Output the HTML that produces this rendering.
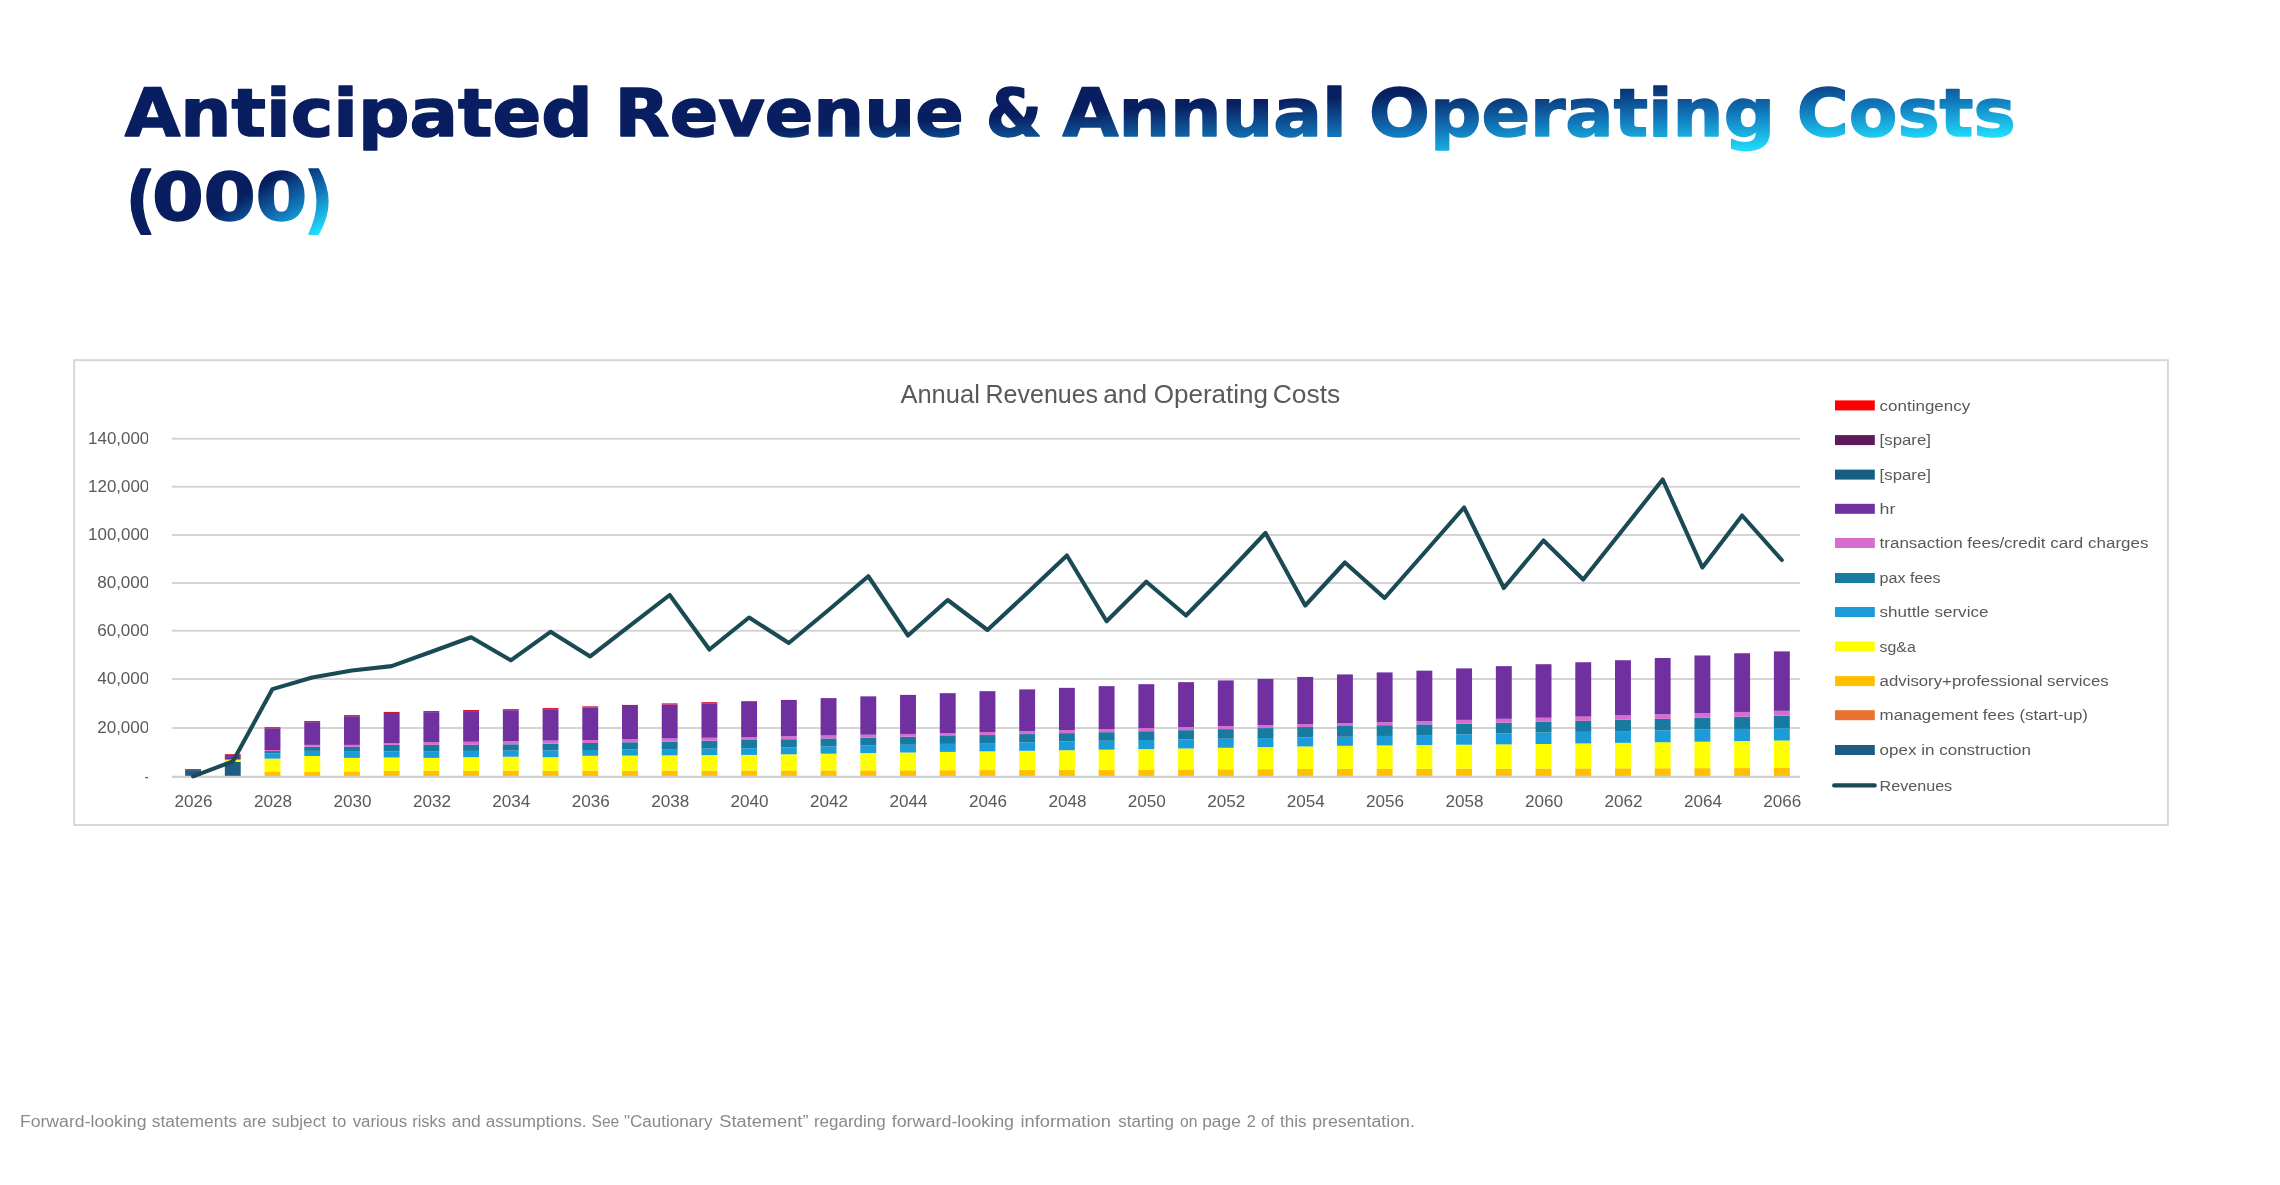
<!DOCTYPE html>
<html lang="en"><head><meta charset="utf-8"><title>Anticipated Revenue &amp; Annual Operating Costs (000)</title>
<style>html,body{margin:0;padding:0;background:#fff}body{width:2280px;height:1185px;overflow:hidden}svg{display:block;will-change:transform}text{font-family:"Liberation Sans",sans-serif}.ttl{font-family:"DejaVu Sans","Liberation Sans",sans-serif;font-weight:bold;font-size:66.2px}.ax{font-size:16.7px;fill:#595959}.lg{font-size:15.4px;fill:#595959}</style></head><body>
<svg width="2280" height="1185" viewBox="0 0 2280 1185">
<defs>
<linearGradient id="g1" gradientUnits="userSpaceOnUse" x1="124.7" y1="75.2" x2="135.4" y2="260.6"><stop offset="0" stop-color="#081E60"/><stop offset="0.493" stop-color="#081E60"/><stop offset="0.704" stop-color="#1177BA"/><stop offset="0.915" stop-color="#21E0FF"/><stop offset="1" stop-color="#21E0FF"/></linearGradient>
<linearGradient id="g2" gradientUnits="userSpaceOnUse" x1="125.9" y1="159.0" x2="210.3" y2="306.7"><stop offset="0" stop-color="#081E60"/><stop offset="0.530" stop-color="#081E60"/><stop offset="0.735" stop-color="#1177BA"/><stop offset="0.940" stop-color="#21E0FF"/><stop offset="1" stop-color="#21E0FF"/></linearGradient>
<clipPath id="ylab"><rect x="80" y="420" width="68.0" height="370"/></clipPath>
</defs>
<rect width="2280" height="1185" fill="#fff"/>
<text class="ttl" y="136.2" fill="url(#g1)" stroke="url(#g1)" stroke-width="1.5" stroke-linejoin="round"><tspan x="124.7" textLength="468.0" lengthAdjust="spacingAndGlyphs">Anticipated</tspan> <tspan x="614.6" textLength="349.1" lengthAdjust="spacingAndGlyphs">Revenue</tspan> <tspan x="985.7" textLength="56.2" lengthAdjust="spacingAndGlyphs">&amp;</tspan> <tspan x="1062.5" textLength="284.4" lengthAdjust="spacingAndGlyphs">Annual</tspan> <tspan x="1369.1" textLength="405.9" lengthAdjust="spacingAndGlyphs">Operating</tspan> <tspan x="1796.8" textLength="218.8" lengthAdjust="spacingAndGlyphs">Costs</tspan></text>
<text class="ttl" y="220.0" fill="url(#g2)" stroke="url(#g2)" stroke-width="1.5" stroke-linejoin="round"><tspan x="125.5" y="224.9" font-size="73.6" textLength="30.7" lengthAdjust="spacingAndGlyphs">(</tspan><tspan x="152.1" y="220.0" textLength="51.8" lengthAdjust="spacingAndGlyphs">0</tspan><tspan x="203.4" y="220.0" textLength="52.3" lengthAdjust="spacingAndGlyphs">0</tspan><tspan x="255.6" y="220.0" textLength="51.8" lengthAdjust="spacingAndGlyphs">0</tspan><tspan x="303.7" y="224.9" font-size="73.6" textLength="29.8" lengthAdjust="spacingAndGlyphs">)</tspan></text>
<rect x="74.15" y="360.15" width="2093.8" height="464.85" fill="#fff" stroke="#D6D6D6" stroke-width="1.9"/>
<text y="403.3" font-size="26.5" fill="#595959"><tspan x="900.4" textLength="79.5" lengthAdjust="spacingAndGlyphs">Annual</tspan> <tspan x="985.5" textLength="112.6" lengthAdjust="spacingAndGlyphs">Revenues</tspan> <tspan x="1103.2" textLength="43.8" lengthAdjust="spacingAndGlyphs">and</tspan> <tspan x="1153.7" textLength="114.4" lengthAdjust="spacingAndGlyphs">Operating</tspan> <tspan x="1272.7" textLength="67.5" lengthAdjust="spacingAndGlyphs">Costs</tspan></text>
<line x1="171.8" x2="1800" y1="438.7" y2="438.7" stroke="#D4D4D4" stroke-width="2"/>
<line x1="171.8" x2="1800" y1="486.8" y2="486.8" stroke="#D4D4D4" stroke-width="2"/>
<line x1="171.8" x2="1800" y1="534.9" y2="534.9" stroke="#D4D4D4" stroke-width="2"/>
<line x1="171.8" x2="1800" y1="583.0" y2="583.0" stroke="#D4D4D4" stroke-width="2"/>
<line x1="171.8" x2="1800" y1="630.8" y2="630.8" stroke="#D4D4D4" stroke-width="2"/>
<line x1="171.8" x2="1800" y1="678.9" y2="678.9" stroke="#D4D4D4" stroke-width="2"/>
<line x1="171.8" x2="1800" y1="727.9" y2="727.9" stroke="#D4D4D4" stroke-width="2"/>
<g clip-path="url(#ylab)" class="ax">
<text x="88.1" y="443.9" textLength="61.2" lengthAdjust="spacingAndGlyphs">140,000</text>
<text x="88.1" y="492.0" textLength="61.2" lengthAdjust="spacingAndGlyphs">120,000</text>
<text x="88.1" y="540.1" textLength="61.2" lengthAdjust="spacingAndGlyphs">100,000</text>
<text x="97.2" y="588.2" textLength="52.1" lengthAdjust="spacingAndGlyphs">80,000</text>
<text x="97.2" y="636.0" textLength="52.1" lengthAdjust="spacingAndGlyphs">60,000</text>
<text x="97.2" y="684.1" textLength="52.1" lengthAdjust="spacingAndGlyphs">40,000</text>
<text x="97.2" y="733.1" textLength="52.1" lengthAdjust="spacingAndGlyphs">20,000</text>
<text x="144.6" y="782.1">-</text>
</g>
<g>
<rect x="185.10" y="770.10" width="15.9" height="6.80" fill="#1C5C85"/>
<rect x="185.10" y="769.10" width="15.9" height="1.00" fill="#D4103A"/>
<rect x="224.82" y="761.80" width="15.9" height="15.10" fill="#1C5C85"/>
<rect x="224.82" y="759.60" width="15.9" height="2.20" fill="#FFFF00"/>
<rect x="224.82" y="756.10" width="15.9" height="3.50" fill="#7030A0"/>
<rect x="224.82" y="754.20" width="15.9" height="1.90" fill="#D4103A"/>
<rect x="264.54" y="772.00" width="15.9" height="4.90" fill="#FFC000"/>
<rect x="264.54" y="758.60" width="15.9" height="13.40" fill="#FFFF00"/>
<rect x="264.54" y="753.30" width="15.9" height="5.30" fill="#1B9BD7"/>
<rect x="264.54" y="751.05" width="15.9" height="2.25" fill="#177AA0"/>
<rect x="264.54" y="750.00" width="15.9" height="1.05" fill="#D86DCD"/>
<rect x="264.54" y="728.29" width="15.9" height="21.71" fill="#7030A0"/>
<rect x="264.54" y="727.19" width="15.9" height="1.10" fill="#D4103A"/>
<rect x="304.26" y="772.00" width="15.9" height="4.90" fill="#FFC000"/>
<rect x="304.26" y="756.00" width="15.9" height="16.00" fill="#FFFF00"/>
<rect x="304.26" y="750.90" width="15.9" height="5.10" fill="#1B9BD7"/>
<rect x="304.26" y="746.70" width="15.9" height="4.20" fill="#177AA0"/>
<rect x="304.26" y="744.90" width="15.9" height="1.80" fill="#D86DCD"/>
<rect x="304.26" y="722.15" width="15.9" height="22.75" fill="#7030A0"/>
<rect x="304.26" y="721.05" width="15.9" height="1.10" fill="#D4103A"/>
<rect x="343.98" y="772.00" width="15.9" height="4.90" fill="#FFC000"/>
<rect x="343.98" y="757.90" width="15.9" height="14.10" fill="#FFFF00"/>
<rect x="343.98" y="751.75" width="15.9" height="6.15" fill="#1B9BD7"/>
<rect x="343.98" y="746.90" width="15.9" height="4.85" fill="#177AA0"/>
<rect x="343.98" y="744.90" width="15.9" height="2.00" fill="#D86DCD"/>
<rect x="343.98" y="716.19" width="15.9" height="28.71" fill="#7030A0"/>
<rect x="343.98" y="715.09" width="15.9" height="1.10" fill="#D4103A"/>
<rect x="383.70" y="770.70" width="15.9" height="6.20" fill="#FFC000"/>
<rect x="383.70" y="757.50" width="15.9" height="13.20" fill="#FFFF00"/>
<rect x="383.70" y="751.40" width="15.9" height="6.10" fill="#1B9BD7"/>
<rect x="383.70" y="744.90" width="15.9" height="6.50" fill="#177AA0"/>
<rect x="383.70" y="743.00" width="15.9" height="1.90" fill="#D86DCD"/>
<rect x="383.70" y="713.03" width="15.9" height="29.97" fill="#7030A0"/>
<rect x="383.70" y="711.93" width="15.9" height="1.10" fill="#D4103A"/>
<rect x="423.42" y="770.70" width="15.9" height="6.20" fill="#FFC000"/>
<rect x="423.42" y="757.90" width="15.9" height="12.80" fill="#FFFF00"/>
<rect x="423.42" y="751.15" width="15.9" height="6.75" fill="#1B9BD7"/>
<rect x="423.42" y="744.90" width="15.9" height="6.25" fill="#177AA0"/>
<rect x="423.42" y="742.38" width="15.9" height="2.52" fill="#D86DCD"/>
<rect x="423.42" y="712.15" width="15.9" height="30.22" fill="#7030A0"/>
<rect x="423.42" y="711.05" width="15.9" height="1.10" fill="#D4103A"/>
<rect x="463.14" y="770.70" width="15.9" height="6.20" fill="#FFC000"/>
<rect x="463.14" y="757.20" width="15.9" height="13.50" fill="#FFFF00"/>
<rect x="463.14" y="750.90" width="15.9" height="6.30" fill="#1B9BD7"/>
<rect x="463.14" y="744.90" width="15.9" height="6.00" fill="#177AA0"/>
<rect x="463.14" y="741.75" width="15.9" height="3.15" fill="#D86DCD"/>
<rect x="463.14" y="711.10" width="15.9" height="30.65" fill="#7030A0"/>
<rect x="463.14" y="710.00" width="15.9" height="1.10" fill="#D4103A"/>
<rect x="502.86" y="770.70" width="15.9" height="6.20" fill="#FFC000"/>
<rect x="502.86" y="756.70" width="15.9" height="14.00" fill="#FFFF00"/>
<rect x="502.86" y="750.60" width="15.9" height="6.10" fill="#1B9BD7"/>
<rect x="502.86" y="744.27" width="15.9" height="6.33" fill="#177AA0"/>
<rect x="502.86" y="741.17" width="15.9" height="3.10" fill="#D86DCD"/>
<rect x="502.86" y="710.22" width="15.9" height="30.94" fill="#7030A0"/>
<rect x="502.86" y="709.12" width="15.9" height="1.10" fill="#D4103A"/>
<rect x="542.58" y="770.70" width="15.9" height="6.20" fill="#FFC000"/>
<rect x="542.58" y="757.20" width="15.9" height="13.50" fill="#FFFF00"/>
<rect x="542.58" y="750.30" width="15.9" height="6.90" fill="#1B9BD7"/>
<rect x="542.58" y="743.63" width="15.9" height="6.67" fill="#177AA0"/>
<rect x="542.58" y="740.58" width="15.9" height="3.05" fill="#D86DCD"/>
<rect x="542.58" y="709.17" width="15.9" height="31.41" fill="#7030A0"/>
<rect x="542.58" y="708.07" width="15.9" height="1.10" fill="#D4103A"/>
<rect x="582.30" y="770.70" width="15.9" height="6.20" fill="#FFC000"/>
<rect x="582.30" y="755.80" width="15.9" height="14.90" fill="#FFFF00"/>
<rect x="582.30" y="750.00" width="15.9" height="5.80" fill="#1B9BD7"/>
<rect x="582.30" y="743.00" width="15.9" height="7.00" fill="#177AA0"/>
<rect x="582.30" y="740.00" width="15.9" height="3.00" fill="#D86DCD"/>
<rect x="582.30" y="707.42" width="15.9" height="32.58" fill="#7030A0"/>
<rect x="582.30" y="706.32" width="15.9" height="1.10" fill="#D4103A"/>
<rect x="622.02" y="770.64" width="15.9" height="6.26" fill="#FFC000"/>
<rect x="622.02" y="755.57" width="15.9" height="15.07" fill="#FFFF00"/>
<rect x="622.02" y="749.55" width="15.9" height="6.02" fill="#1B9BD7"/>
<rect x="622.02" y="742.25" width="15.9" height="7.30" fill="#177AA0"/>
<rect x="622.02" y="739.25" width="15.9" height="3.00" fill="#D86DCD"/>
<rect x="622.02" y="706.01" width="15.9" height="33.24" fill="#7030A0"/>
<rect x="622.02" y="704.91" width="15.9" height="1.10" fill="#D4103A"/>
<rect x="661.74" y="770.59" width="15.9" height="6.31" fill="#FFC000"/>
<rect x="661.74" y="755.35" width="15.9" height="15.24" fill="#FFFF00"/>
<rect x="661.74" y="749.10" width="15.9" height="6.25" fill="#1B9BD7"/>
<rect x="661.74" y="741.50" width="15.9" height="7.60" fill="#177AA0"/>
<rect x="661.74" y="738.50" width="15.9" height="3.00" fill="#D86DCD"/>
<rect x="661.74" y="704.48" width="15.9" height="34.02" fill="#7030A0"/>
<rect x="661.74" y="703.38" width="15.9" height="1.10" fill="#D4103A"/>
<rect x="701.46" y="770.53" width="15.9" height="6.37" fill="#FFC000"/>
<rect x="701.46" y="755.12" width="15.9" height="15.41" fill="#FFFF00"/>
<rect x="701.46" y="748.65" width="15.9" height="6.48" fill="#1B9BD7"/>
<rect x="701.46" y="740.75" width="15.9" height="7.90" fill="#177AA0"/>
<rect x="701.46" y="737.75" width="15.9" height="3.00" fill="#D86DCD"/>
<rect x="701.46" y="703.25" width="15.9" height="34.50" fill="#7030A0"/>
<rect x="701.46" y="702.15" width="15.9" height="1.10" fill="#D4103A"/>
<rect x="741.18" y="770.48" width="15.9" height="6.42" fill="#FFC000"/>
<rect x="741.18" y="754.90" width="15.9" height="15.58" fill="#FFFF00"/>
<rect x="741.18" y="748.20" width="15.9" height="6.70" fill="#1B9BD7"/>
<rect x="741.18" y="740.00" width="15.9" height="8.20" fill="#177AA0"/>
<rect x="741.18" y="737.00" width="15.9" height="3.00" fill="#D86DCD"/>
<rect x="741.18" y="701.18" width="15.9" height="35.82" fill="#7030A0"/>
<rect x="780.90" y="770.42" width="15.9" height="6.48" fill="#FFC000"/>
<rect x="780.90" y="754.30" width="15.9" height="16.12" fill="#FFFF00"/>
<rect x="780.90" y="747.34" width="15.9" height="6.96" fill="#1B9BD7"/>
<rect x="780.90" y="739.20" width="15.9" height="8.14" fill="#177AA0"/>
<rect x="780.90" y="736.24" width="15.9" height="2.96" fill="#D86DCD"/>
<rect x="780.90" y="699.91" width="15.9" height="36.33" fill="#7030A0"/>
<rect x="820.62" y="770.37" width="15.9" height="6.53" fill="#FFC000"/>
<rect x="820.62" y="753.70" width="15.9" height="16.67" fill="#FFFF00"/>
<rect x="820.62" y="746.48" width="15.9" height="7.22" fill="#1B9BD7"/>
<rect x="820.62" y="738.40" width="15.9" height="8.08" fill="#177AA0"/>
<rect x="820.62" y="735.48" width="15.9" height="2.92" fill="#D86DCD"/>
<rect x="820.62" y="698.11" width="15.9" height="37.37" fill="#7030A0"/>
<rect x="860.34" y="770.31" width="15.9" height="6.59" fill="#FFC000"/>
<rect x="860.34" y="753.10" width="15.9" height="17.21" fill="#FFFF00"/>
<rect x="860.34" y="745.62" width="15.9" height="7.48" fill="#1B9BD7"/>
<rect x="860.34" y="737.60" width="15.9" height="8.02" fill="#177AA0"/>
<rect x="860.34" y="734.72" width="15.9" height="2.88" fill="#D86DCD"/>
<rect x="860.34" y="696.36" width="15.9" height="38.36" fill="#7030A0"/>
<rect x="900.06" y="770.26" width="15.9" height="6.64" fill="#FFC000"/>
<rect x="900.06" y="752.50" width="15.9" height="17.76" fill="#FFFF00"/>
<rect x="900.06" y="744.76" width="15.9" height="7.74" fill="#1B9BD7"/>
<rect x="900.06" y="736.80" width="15.9" height="7.96" fill="#177AA0"/>
<rect x="900.06" y="733.96" width="15.9" height="2.84" fill="#D86DCD"/>
<rect x="900.06" y="694.87" width="15.9" height="39.09" fill="#7030A0"/>
<rect x="939.78" y="770.20" width="15.9" height="6.70" fill="#FFC000"/>
<rect x="939.78" y="751.90" width="15.9" height="18.30" fill="#FFFF00"/>
<rect x="939.78" y="743.90" width="15.9" height="8.00" fill="#1B9BD7"/>
<rect x="939.78" y="736.00" width="15.9" height="7.90" fill="#177AA0"/>
<rect x="939.78" y="733.20" width="15.9" height="2.80" fill="#D86DCD"/>
<rect x="939.78" y="693.16" width="15.9" height="40.04" fill="#7030A0"/>
<rect x="979.50" y="770.07" width="15.9" height="6.83" fill="#FFC000"/>
<rect x="979.50" y="751.34" width="15.9" height="18.73" fill="#FFFF00"/>
<rect x="979.50" y="743.12" width="15.9" height="8.22" fill="#1B9BD7"/>
<rect x="979.50" y="735.04" width="15.9" height="8.08" fill="#177AA0"/>
<rect x="979.50" y="732.18" width="15.9" height="2.86" fill="#D86DCD"/>
<rect x="979.50" y="691.18" width="15.9" height="41.00" fill="#7030A0"/>
<rect x="1019.22" y="769.94" width="15.9" height="6.96" fill="#FFC000"/>
<rect x="1019.22" y="750.78" width="15.9" height="19.16" fill="#FFFF00"/>
<rect x="1019.22" y="742.34" width="15.9" height="8.44" fill="#1B9BD7"/>
<rect x="1019.22" y="734.08" width="15.9" height="8.26" fill="#177AA0"/>
<rect x="1019.22" y="731.16" width="15.9" height="2.92" fill="#D86DCD"/>
<rect x="1019.22" y="689.39" width="15.9" height="41.77" fill="#7030A0"/>
<rect x="1058.94" y="769.81" width="15.9" height="7.09" fill="#FFC000"/>
<rect x="1058.94" y="750.22" width="15.9" height="19.59" fill="#FFFF00"/>
<rect x="1058.94" y="741.56" width="15.9" height="8.66" fill="#1B9BD7"/>
<rect x="1058.94" y="733.12" width="15.9" height="8.44" fill="#177AA0"/>
<rect x="1058.94" y="730.14" width="15.9" height="2.98" fill="#D86DCD"/>
<rect x="1058.94" y="687.85" width="15.9" height="42.29" fill="#7030A0"/>
<rect x="1098.66" y="769.68" width="15.9" height="7.22" fill="#FFC000"/>
<rect x="1098.66" y="749.66" width="15.9" height="20.02" fill="#FFFF00"/>
<rect x="1098.66" y="740.78" width="15.9" height="8.88" fill="#1B9BD7"/>
<rect x="1098.66" y="732.16" width="15.9" height="8.62" fill="#177AA0"/>
<rect x="1098.66" y="729.12" width="15.9" height="3.04" fill="#D86DCD"/>
<rect x="1098.66" y="686.14" width="15.9" height="42.98" fill="#7030A0"/>
<rect x="1138.38" y="769.55" width="15.9" height="7.35" fill="#FFC000"/>
<rect x="1138.38" y="749.10" width="15.9" height="20.45" fill="#FFFF00"/>
<rect x="1138.38" y="740.00" width="15.9" height="9.10" fill="#1B9BD7"/>
<rect x="1138.38" y="731.20" width="15.9" height="8.80" fill="#177AA0"/>
<rect x="1138.38" y="728.10" width="15.9" height="3.10" fill="#D86DCD"/>
<rect x="1138.38" y="684.17" width="15.9" height="43.93" fill="#7030A0"/>
<rect x="1178.10" y="769.42" width="15.9" height="7.48" fill="#FFC000"/>
<rect x="1178.10" y="748.44" width="15.9" height="20.98" fill="#FFFF00"/>
<rect x="1178.10" y="739.36" width="15.9" height="9.08" fill="#1B9BD7"/>
<rect x="1178.10" y="730.16" width="15.9" height="9.20" fill="#177AA0"/>
<rect x="1178.10" y="727.12" width="15.9" height="3.04" fill="#D86DCD"/>
<rect x="1178.10" y="682.15" width="15.9" height="44.97" fill="#7030A0"/>
<rect x="1217.82" y="769.29" width="15.9" height="7.61" fill="#FFC000"/>
<rect x="1217.82" y="747.78" width="15.9" height="21.51" fill="#FFFF00"/>
<rect x="1217.82" y="738.72" width="15.9" height="9.06" fill="#1B9BD7"/>
<rect x="1217.82" y="729.12" width="15.9" height="9.60" fill="#177AA0"/>
<rect x="1217.82" y="726.14" width="15.9" height="2.98" fill="#D86DCD"/>
<rect x="1217.82" y="680.39" width="15.9" height="45.75" fill="#7030A0"/>
<rect x="1257.54" y="769.16" width="15.9" height="7.74" fill="#FFC000"/>
<rect x="1257.54" y="747.12" width="15.9" height="22.04" fill="#FFFF00"/>
<rect x="1257.54" y="738.08" width="15.9" height="9.04" fill="#1B9BD7"/>
<rect x="1257.54" y="728.08" width="15.9" height="10.00" fill="#177AA0"/>
<rect x="1257.54" y="725.16" width="15.9" height="2.92" fill="#D86DCD"/>
<rect x="1257.54" y="678.90" width="15.9" height="46.26" fill="#7030A0"/>
<rect x="1297.26" y="769.03" width="15.9" height="7.87" fill="#FFC000"/>
<rect x="1297.26" y="746.46" width="15.9" height="22.57" fill="#FFFF00"/>
<rect x="1297.26" y="737.44" width="15.9" height="9.02" fill="#1B9BD7"/>
<rect x="1297.26" y="727.04" width="15.9" height="10.40" fill="#177AA0"/>
<rect x="1297.26" y="724.18" width="15.9" height="2.86" fill="#D86DCD"/>
<rect x="1297.26" y="676.93" width="15.9" height="47.25" fill="#7030A0"/>
<rect x="1336.98" y="768.90" width="15.9" height="8.00" fill="#FFC000"/>
<rect x="1336.98" y="745.80" width="15.9" height="23.10" fill="#FFFF00"/>
<rect x="1336.98" y="736.80" width="15.9" height="9.00" fill="#1B9BD7"/>
<rect x="1336.98" y="726.00" width="15.9" height="10.80" fill="#177AA0"/>
<rect x="1336.98" y="723.20" width="15.9" height="2.80" fill="#D86DCD"/>
<rect x="1336.98" y="674.43" width="15.9" height="48.77" fill="#7030A0"/>
<rect x="1376.70" y="768.82" width="15.9" height="8.08" fill="#FFC000"/>
<rect x="1376.70" y="745.44" width="15.9" height="23.38" fill="#FFFF00"/>
<rect x="1376.70" y="735.96" width="15.9" height="9.48" fill="#1B9BD7"/>
<rect x="1376.70" y="725.18" width="15.9" height="10.78" fill="#177AA0"/>
<rect x="1376.70" y="722.10" width="15.9" height="3.08" fill="#D86DCD"/>
<rect x="1376.70" y="672.41" width="15.9" height="49.69" fill="#7030A0"/>
<rect x="1416.42" y="768.74" width="15.9" height="8.16" fill="#FFC000"/>
<rect x="1416.42" y="745.08" width="15.9" height="23.66" fill="#FFFF00"/>
<rect x="1416.42" y="735.12" width="15.9" height="9.96" fill="#1B9BD7"/>
<rect x="1416.42" y="724.36" width="15.9" height="10.76" fill="#177AA0"/>
<rect x="1416.42" y="721.00" width="15.9" height="3.36" fill="#D86DCD"/>
<rect x="1416.42" y="670.66" width="15.9" height="50.34" fill="#7030A0"/>
<rect x="1456.14" y="768.65" width="15.9" height="8.25" fill="#FFC000"/>
<rect x="1456.14" y="744.72" width="15.9" height="23.93" fill="#FFFF00"/>
<rect x="1456.14" y="734.28" width="15.9" height="10.44" fill="#1B9BD7"/>
<rect x="1456.14" y="723.54" width="15.9" height="10.74" fill="#177AA0"/>
<rect x="1456.14" y="719.90" width="15.9" height="3.64" fill="#D86DCD"/>
<rect x="1456.14" y="668.38" width="15.9" height="51.52" fill="#7030A0"/>
<rect x="1495.86" y="768.57" width="15.9" height="8.33" fill="#FFC000"/>
<rect x="1495.86" y="744.36" width="15.9" height="24.21" fill="#FFFF00"/>
<rect x="1495.86" y="733.44" width="15.9" height="10.92" fill="#1B9BD7"/>
<rect x="1495.86" y="722.72" width="15.9" height="10.72" fill="#177AA0"/>
<rect x="1495.86" y="718.80" width="15.9" height="3.92" fill="#D86DCD"/>
<rect x="1495.86" y="666.14" width="15.9" height="52.66" fill="#7030A0"/>
<rect x="1535.58" y="768.49" width="15.9" height="8.41" fill="#FFC000"/>
<rect x="1535.58" y="744.00" width="15.9" height="24.49" fill="#FFFF00"/>
<rect x="1535.58" y="732.60" width="15.9" height="11.40" fill="#1B9BD7"/>
<rect x="1535.58" y="721.90" width="15.9" height="10.70" fill="#177AA0"/>
<rect x="1535.58" y="717.70" width="15.9" height="4.20" fill="#D86DCD"/>
<rect x="1535.58" y="664.21" width="15.9" height="53.49" fill="#7030A0"/>
<rect x="1575.30" y="768.41" width="15.9" height="8.49" fill="#FFC000"/>
<rect x="1575.30" y="743.42" width="15.9" height="24.99" fill="#FFFF00"/>
<rect x="1575.30" y="731.87" width="15.9" height="11.55" fill="#1B9BD7"/>
<rect x="1575.30" y="720.88" width="15.9" height="10.98" fill="#177AA0"/>
<rect x="1575.30" y="716.55" width="15.9" height="4.33" fill="#D86DCD"/>
<rect x="1575.30" y="662.24" width="15.9" height="54.31" fill="#7030A0"/>
<rect x="1615.02" y="768.33" width="15.9" height="8.57" fill="#FFC000"/>
<rect x="1615.02" y="742.83" width="15.9" height="25.49" fill="#FFFF00"/>
<rect x="1615.02" y="731.13" width="15.9" height="11.70" fill="#1B9BD7"/>
<rect x="1615.02" y="719.87" width="15.9" height="11.27" fill="#177AA0"/>
<rect x="1615.02" y="715.40" width="15.9" height="4.47" fill="#D86DCD"/>
<rect x="1615.02" y="660.22" width="15.9" height="55.18" fill="#7030A0"/>
<rect x="1654.74" y="768.25" width="15.9" height="8.65" fill="#FFC000"/>
<rect x="1654.74" y="742.25" width="15.9" height="26.00" fill="#FFFF00"/>
<rect x="1654.74" y="730.40" width="15.9" height="11.85" fill="#1B9BD7"/>
<rect x="1654.74" y="718.85" width="15.9" height="11.55" fill="#177AA0"/>
<rect x="1654.74" y="714.25" width="15.9" height="4.60" fill="#D86DCD"/>
<rect x="1654.74" y="657.98" width="15.9" height="56.27" fill="#7030A0"/>
<rect x="1694.46" y="768.16" width="15.9" height="8.74" fill="#FFC000"/>
<rect x="1694.46" y="741.67" width="15.9" height="26.50" fill="#FFFF00"/>
<rect x="1694.46" y="729.67" width="15.9" height="12.00" fill="#1B9BD7"/>
<rect x="1694.46" y="717.83" width="15.9" height="11.83" fill="#177AA0"/>
<rect x="1694.46" y="713.10" width="15.9" height="4.73" fill="#D86DCD"/>
<rect x="1694.46" y="655.48" width="15.9" height="57.62" fill="#7030A0"/>
<rect x="1734.18" y="768.08" width="15.9" height="8.82" fill="#FFC000"/>
<rect x="1734.18" y="741.08" width="15.9" height="27.00" fill="#FFFF00"/>
<rect x="1734.18" y="728.93" width="15.9" height="12.15" fill="#1B9BD7"/>
<rect x="1734.18" y="716.82" width="15.9" height="12.12" fill="#177AA0"/>
<rect x="1734.18" y="711.95" width="15.9" height="4.87" fill="#D86DCD"/>
<rect x="1734.18" y="653.25" width="15.9" height="58.70" fill="#7030A0"/>
<rect x="1773.90" y="768.00" width="15.9" height="8.90" fill="#FFC000"/>
<rect x="1773.90" y="740.50" width="15.9" height="27.50" fill="#FFFF00"/>
<rect x="1773.90" y="728.20" width="15.9" height="12.30" fill="#1B9BD7"/>
<rect x="1773.90" y="715.80" width="15.9" height="12.40" fill="#177AA0"/>
<rect x="1773.90" y="710.80" width="15.9" height="5.00" fill="#D86DCD"/>
<rect x="1773.90" y="651.40" width="15.9" height="59.40" fill="#7030A0"/>
</g>
<line x1="171.8" x2="1800" y1="776.9" y2="776.9" stroke="#D0D0D0" stroke-width="2.2"/>
<polyline points="193.1,776.3 232.8,761.4 272.5,689.1 312.2,677.5 351.9,670.5 391.6,666.15 431.4,651.7 471.1,637.2 510.8,660.3 550.5,631.8 590.2,656.4 630.0,625.6 669.7,595 709.4,649.5 749.1,617.5 788.8,643 828.6,610 868.3,576.25 908.0,635.5 947.7,600 987.5,630 1027.2,593 1066.9,555.5 1106.6,621.25 1146.3,581.75 1186.0,615.5 1225.8,575 1265.5,533 1305.2,605.5 1344.9,562.5 1384.6,598 1424.4,552.75 1464.1,507.5 1503.8,588 1543.5,540.5 1583.2,579.5 1623.0,529.5 1662.7,479.5 1702.4,567.5 1742.1,515.5 1781.8,560" fill="none" stroke="#1A4A54" stroke-width="4.1" stroke-linejoin="round" stroke-linecap="round"/>
<g class="ax" text-anchor="middle" style="font-size:17.1px">
<text x="193.6" y="807">2026</text>
<text x="273.0" y="807">2028</text>
<text x="352.4" y="807">2030</text>
<text x="431.9" y="807">2032</text>
<text x="511.3" y="807">2034</text>
<text x="590.8" y="807">2036</text>
<text x="670.2" y="807">2038</text>
<text x="749.6" y="807">2040</text>
<text x="829.1" y="807">2042</text>
<text x="908.5" y="807">2044</text>
<text x="988.0" y="807">2046</text>
<text x="1067.4" y="807">2048</text>
<text x="1146.8" y="807">2050</text>
<text x="1226.3" y="807">2052</text>
<text x="1305.7" y="807">2054</text>
<text x="1385.1" y="807">2056</text>
<text x="1464.6" y="807">2058</text>
<text x="1544.0" y="807">2060</text>
<text x="1623.5" y="807">2062</text>
<text x="1702.9" y="807">2064</text>
<text x="1782.3" y="807">2066</text>
</g>
<g class="lg">
<rect x="1835" y="400.4" width="39.8" height="10" fill="#FF0000"/>
<text x="1879.6" y="410.6" textLength="90.6" lengthAdjust="spacingAndGlyphs">contingency</text>
<rect x="1835" y="435.1" width="39.8" height="10" fill="#5E1A5C"/>
<text x="1879.6" y="445.2" textLength="51.4" lengthAdjust="spacingAndGlyphs">[spare]</text>
<rect x="1835" y="469.6" width="39.8" height="10" fill="#156082"/>
<text x="1879.6" y="479.8" textLength="51.4" lengthAdjust="spacingAndGlyphs">[spare]</text>
<rect x="1835" y="503.8" width="39.8" height="10" fill="#7030A0"/>
<text x="1879.6" y="514.0" textLength="15.8" lengthAdjust="spacingAndGlyphs">hr</text>
<rect x="1835" y="538.0" width="39.8" height="10" fill="#D86DCD"/>
<text x="1879.6" y="548.2" textLength="268.8" lengthAdjust="spacingAndGlyphs">transaction fees/credit card charges</text>
<rect x="1835" y="573.0" width="39.8" height="10" fill="#177AA0"/>
<text x="1879.6" y="583.2" textLength="61.0" lengthAdjust="spacingAndGlyphs">pax fees</text>
<rect x="1835" y="607.0" width="39.8" height="10" fill="#1B9BD7"/>
<text x="1879.6" y="617.2" textLength="108.8" lengthAdjust="spacingAndGlyphs">shuttle service</text>
<rect x="1835" y="641.5" width="39.8" height="10" fill="#FFFF00"/>
<text x="1879.6" y="651.7" textLength="36.2" lengthAdjust="spacingAndGlyphs">sg&amp;a</text>
<rect x="1835" y="676.1" width="39.8" height="10" fill="#FFC000"/>
<text x="1879.6" y="686.3" textLength="229.1" lengthAdjust="spacingAndGlyphs">advisory+professional services</text>
<rect x="1835" y="710.2" width="39.8" height="10" fill="#E97132"/>
<text x="1879.6" y="720.4" textLength="208.4" lengthAdjust="spacingAndGlyphs">management fees (start-up)</text>
<rect x="1835" y="745.0" width="39.8" height="10" fill="#1C5C85"/>
<text x="1879.6" y="755.2" textLength="151.3" lengthAdjust="spacingAndGlyphs">opex in construction</text>
<line x1="1834.3" x2="1874.6" y1="785.4" y2="785.4" stroke="#1A4A54" stroke-width="4.4" stroke-linecap="round"/>
<text x="1879.6" y="790.9" textLength="72.6" lengthAdjust="spacingAndGlyphs">Revenues</text>
</g>
<text y="1126.7" font-size="15.6" fill="#8A8A8A"><tspan x="19.9" textLength="126.6" lengthAdjust="spacingAndGlyphs">Forward-looking</tspan> <tspan x="151.7" textLength="85.4" lengthAdjust="spacingAndGlyphs">statements</tspan> <tspan x="242.7" textLength="23.7" lengthAdjust="spacingAndGlyphs">are</tspan> <tspan x="271.7" textLength="54.3" lengthAdjust="spacingAndGlyphs">subject</tspan> <tspan x="332.3" textLength="14.0" lengthAdjust="spacingAndGlyphs">to</tspan> <tspan x="352.7" textLength="54.4" lengthAdjust="spacingAndGlyphs">various</tspan> <tspan x="412.3" textLength="33.5" lengthAdjust="spacingAndGlyphs">risks</tspan> <tspan x="451.7" textLength="29.1" lengthAdjust="spacingAndGlyphs">and</tspan> <tspan x="485.7" textLength="100.8" lengthAdjust="spacingAndGlyphs">assumptions.</tspan> <tspan x="591.5" textLength="27.7" lengthAdjust="spacingAndGlyphs">See</tspan> <tspan x="624.0" textLength="88.5" lengthAdjust="spacingAndGlyphs">"Cautionary</tspan> <tspan x="719.3" textLength="89.2" lengthAdjust="spacingAndGlyphs">Statement”</tspan> <tspan x="813.9" textLength="71.8" lengthAdjust="spacingAndGlyphs">regarding</tspan> <tspan x="891.7" textLength="122.4" lengthAdjust="spacingAndGlyphs">forward-looking</tspan> <tspan x="1020.5" textLength="90.3" lengthAdjust="spacingAndGlyphs">information</tspan> <tspan x="1118.3" textLength="55.7" lengthAdjust="spacingAndGlyphs">starting</tspan> <tspan x="1180.0" textLength="17.4" lengthAdjust="spacingAndGlyphs">on</tspan> <tspan x="1202.2" textLength="38.6" lengthAdjust="spacingAndGlyphs">page</tspan> <tspan x="1246.7" textLength="9.0" lengthAdjust="spacingAndGlyphs">2</tspan> <tspan x="1261.0" textLength="13.3" lengthAdjust="spacingAndGlyphs">of</tspan> <tspan x="1280.0" textLength="26.5" lengthAdjust="spacingAndGlyphs">this</tspan> <tspan x="1312.2" textLength="102.7" lengthAdjust="spacingAndGlyphs">presentation.</tspan></text>
</svg></body></html>
